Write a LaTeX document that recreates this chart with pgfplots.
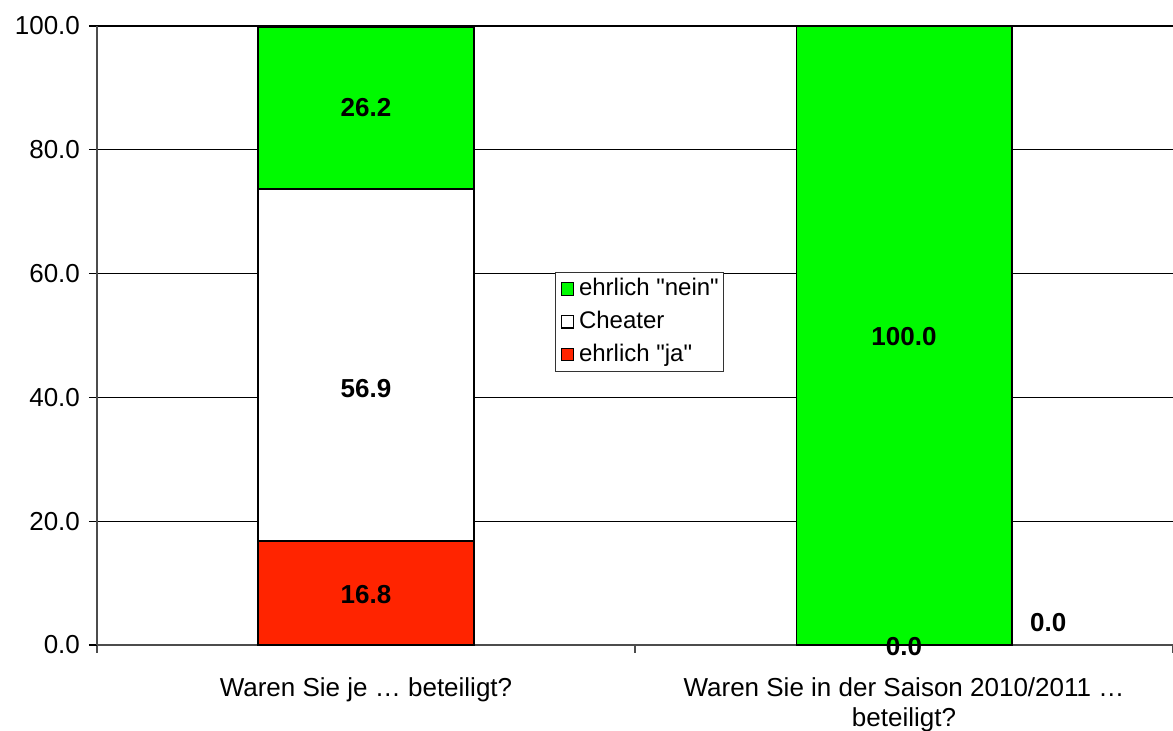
\documentclass[border=0pt]{standalone}
\usepackage{pgfplots}
\pgfplotsset{compat=1.18}
\usepackage{fontspec}
\setmainfont{Liberation Sans}
\definecolor{nein}{RGB}{0,250,0}
\definecolor{ja}{RGB}{255,36,0}

\begin{document}
\begin{tikzpicture}
\begin{axis}[
  name=ax,
  width=538pt, height=309.5pt, scale only axis,
  font=\fontsize{13}{15}\selectfont,
  ybar stacked, bar width=0.4,
  xmin=-0.5, xmax=1.5, ymin=0, ymax=100,
  axis x line*=bottom, axis y line*=left,
  axis line style={black!70, line width=0.8pt},
  xtick={0,1},
  xticklabels={Waren Sie je … beteiligt?, {Waren Sie in der Saison 2010/2011 …\\beteiligt?}},
  xticklabel style={align=center, yshift=-9pt},
  major x tick style={draw=none},
  minor xtick={-0.5,0.5,1.5},
  minor x tick style={black!70, line width=0.8pt},
  minor tick length=4pt,
  ytick={0,20,...,100},
  tick align=outside, major tick length=4pt,
  y tick style={black, line width=0.6pt},
  ymajorgrids, major grid style={black, line width=0.6pt},
  yticklabel style={xshift=-1pt},
  y tick label style={/pgf/number format/fixed, /pgf/number format/fixed zerofill,
    /pgf/number format/precision=1, /pgf/number format/assume math mode=true},
  clip=false,
  reverse legend,
  legend style={at={(axis cs:0.351,60.3)}, anchor=north west, draw=black!80,
    font=\fontsize{12}{14}\selectfont, row sep=2.2pt, inner xsep=0.5pt, inner ysep=1.2pt,
    cells={anchor=west}},
  legend image code/.code={
    \path (0pt,0pt) (8.5pt,0pt);
    \draw[#1, draw=black, line width=0.6pt] (2pt,-3.2pt) rectangle (8pt,3.0pt);},
  every axis plot/.append style={draw=black, line width=0.9pt},
]
\addplot[fill=ja] coordinates {(0,16.8) (1,0)};
\addlegendentry{ehrlich \textquotedbl ja\textquotedbl}
\addplot[fill=white] coordinates {(0,56.9) (1,0)};
\addlegendentry{Cheater}
\addplot[fill=nein] coordinates {(0,26.2) (1,100)};
\addlegendentry{ehrlich \textquotedbl nein\textquotedbl}
\end{axis}
% value labels on top of the bars
\begin{axis}[
  width=538pt, height=309.5pt, scale only axis, hide axis, clip=false,
  xmin=-0.5, xmax=1.5, ymin=0, ymax=100,
  font=\fontsize{13}{15}\bfseries\selectfont,
]
\node at (axis cs:0,8.2) {16.8};
\node at (axis cs:0,41.4) {56.9};
\node at (axis cs:0,86.75) {26.2};
\node at (axis cs:1,49.9) {100.0};
\node at (axis cs:1,-0.3) {0.0};
\node at (axis cs:1.268,3.7) {0.0};
\end{axis}
\pgfresetboundingbox
\useasboundingbox ([xshift=-48.5pt,yshift=-43pt]ax.south west) rectangle ([yshift=13pt]ax.north east);
\end{tikzpicture}
\end{document}
